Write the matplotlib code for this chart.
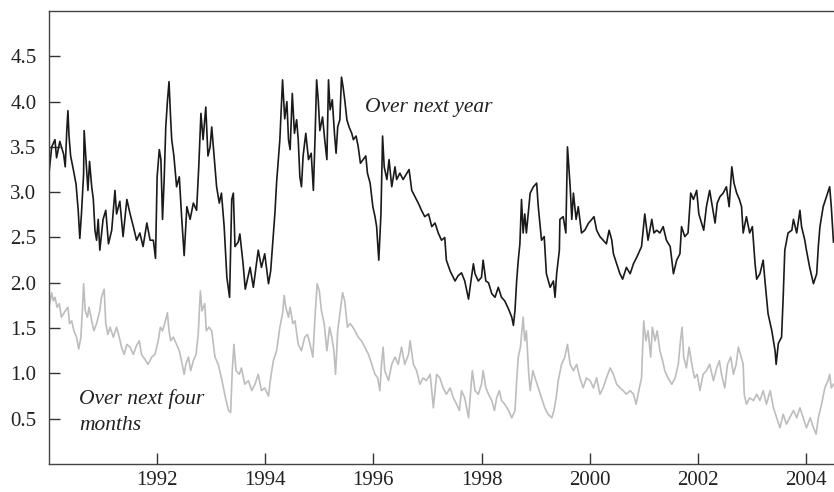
import matplotlib
matplotlib.use("Agg")
import matplotlib.pyplot as plt

plt.rcParams['font.family'] = ['Liberation Serif', 'DejaVu Serif']

# Over next year (black)
year_1y = [
    1990.00, 1990.05, 1990.11, 1990.14, 1990.20, 1990.27, 1990.30, 1990.33, 1990.35, 1990.37,
    1990.40, 1990.45, 1990.50, 1990.54, 1990.57, 1990.60, 1990.64, 1990.65, 1990.68, 1990.72,
    1990.75, 1990.79, 1990.82, 1990.85, 1990.88, 1990.91, 1990.94, 1991.00, 1991.05, 1991.10,
    1991.16, 1991.22, 1991.25, 1991.31, 1991.37, 1991.44, 1991.50, 1991.56, 1991.62, 1991.68,
    1991.74, 1991.81, 1991.87, 1991.93, 1991.97, 1992.00, 1992.04, 1992.07, 1992.10, 1992.13,
    1992.16, 1992.19, 1992.22, 1992.25, 1992.27, 1992.31, 1992.36, 1992.41, 1992.45, 1992.50,
    1992.55, 1992.61, 1992.67, 1992.73, 1992.77, 1992.81, 1992.85, 1992.90, 1992.94, 1992.98,
    1993.01, 1993.05, 1993.10, 1993.15, 1993.19, 1993.24, 1993.29, 1993.34, 1993.38, 1993.41,
    1993.44, 1993.50, 1993.53, 1993.59, 1993.63, 1993.72, 1993.78, 1993.87, 1993.93, 1993.99,
    1994.06, 1994.10, 1994.14, 1994.18, 1994.21, 1994.27, 1994.32, 1994.36, 1994.40, 1994.43,
    1994.46, 1994.50, 1994.54, 1994.58, 1994.61, 1994.64, 1994.67, 1994.70, 1994.75, 1994.80,
    1994.85, 1994.89, 1994.92, 1994.95, 1994.98, 1995.01, 1995.06, 1995.10, 1995.14, 1995.17,
    1995.20, 1995.24, 1995.28, 1995.31, 1995.34, 1995.38, 1995.41, 1995.44, 1995.47, 1995.51,
    1995.55, 1995.60, 1995.63, 1995.68, 1995.72, 1995.76, 1995.81, 1995.86, 1995.89, 1995.94,
    1995.99, 1996.03, 1996.06, 1996.10, 1996.14, 1996.17, 1996.20, 1996.25, 1996.29, 1996.34,
    1996.40, 1996.43, 1996.49, 1996.55, 1996.62, 1996.66, 1996.71, 1996.77, 1996.83, 1996.89,
    1996.95, 1997.02, 1997.08, 1997.14, 1997.20, 1997.26, 1997.32, 1997.35, 1997.42, 1997.51,
    1997.57, 1997.63, 1997.69, 1997.76, 1997.80, 1997.85, 1997.88, 1997.94, 1998.00, 1998.03,
    1998.08, 1998.13, 1998.19, 1998.25, 1998.31, 1998.37, 1998.43, 1998.50, 1998.56, 1998.59,
    1998.62, 1998.65, 1998.68, 1998.71, 1998.74, 1998.77, 1998.80, 1998.83, 1998.90, 1998.96,
    1999.02, 1999.05, 1999.11, 1999.16, 1999.20, 1999.27, 1999.33, 1999.36, 1999.39, 1999.44,
    1999.45, 1999.51, 1999.56, 1999.59, 1999.64, 1999.67, 1999.70, 1999.75, 1999.79, 1999.85,
    1999.91, 1999.98, 2000.04, 2000.08, 2000.13, 2000.19, 2000.25, 2000.31, 2000.36, 2000.41,
    2000.44, 2000.50, 2000.56, 2000.61, 2000.68, 2000.75, 2000.81, 2000.87, 2000.96, 2001.02,
    2001.08, 2001.15, 2001.19, 2001.24, 2001.30, 2001.36, 2001.42, 2001.49, 2001.55, 2001.61,
    2001.67, 2001.70, 2001.76, 2001.82, 2001.87, 2001.92, 2001.98, 2002.02, 2002.07, 2002.11,
    2002.16, 2002.22, 2002.27, 2002.32, 2002.36, 2002.41, 2002.47, 2002.53, 2002.58, 2002.63,
    2002.67, 2002.72, 2002.77, 2002.81, 2002.84, 2002.90, 2002.96, 2003.01, 2003.06, 2003.09,
    2003.15, 2003.21, 2003.24, 2003.30, 2003.37, 2003.43, 2003.45, 2003.49, 2003.55, 2003.58,
    2003.61, 2003.67, 2003.74, 2003.77, 2003.83, 2003.89, 2003.92, 2003.98, 2004.01, 2004.07,
    2004.14, 2004.20, 2004.23, 2004.26, 2004.32, 2004.38, 2004.44, 2004.47, 2004.51,
]
val_1y = [
    3.21, 3.50, 3.58, 3.38, 3.56, 3.42, 3.28, 3.69, 3.90, 3.62,
    3.40, 3.25, 3.09, 2.80, 2.49, 2.76, 3.20, 3.68, 3.40, 3.02,
    3.34, 3.06, 2.92, 2.58, 2.47, 2.70, 2.36, 2.70, 2.80, 2.43,
    2.58, 3.02, 2.76, 2.90, 2.51, 2.92, 2.76, 2.62, 2.47, 2.55,
    2.40, 2.66, 2.47, 2.47, 2.27, 3.17, 3.47, 3.36, 2.70, 3.14,
    3.72, 4.00, 4.22, 3.81, 3.58, 3.40, 3.06, 3.17, 2.76, 2.30,
    2.84, 2.70, 2.88, 2.80, 3.28, 3.87, 3.58, 3.94, 3.40, 3.50,
    3.72, 3.43, 3.06, 2.88, 2.99, 2.62, 2.06, 1.84, 2.92, 2.99,
    2.40, 2.45, 2.54, 2.21, 1.93, 2.17, 1.95, 2.36, 2.17, 2.32,
    1.99, 2.13, 2.45, 2.78, 3.11, 3.58, 4.24, 3.81, 4.00, 3.58,
    3.47, 4.09, 3.65, 3.80, 3.58, 3.17, 3.06, 3.40, 3.65, 3.36,
    3.43, 3.02, 3.58, 4.24, 4.02, 3.68, 3.83, 3.58, 3.36, 4.24,
    3.91, 4.02, 3.65, 3.43, 3.72, 3.80, 4.27, 4.16, 4.02, 3.80,
    3.72, 3.65, 3.58, 3.62, 3.50, 3.32, 3.36, 3.40, 3.21, 3.10,
    2.84, 2.73, 2.62, 2.25, 2.76, 3.62, 3.28, 3.14, 3.36, 3.06,
    3.28, 3.14, 3.21, 3.14, 3.21, 3.25, 3.02, 2.95, 2.88, 2.80,
    2.73, 2.76, 2.62, 2.66, 2.55, 2.47, 2.50, 2.25, 2.13, 2.02,
    2.08, 2.11, 2.02, 1.82, 2.00, 2.21, 2.10, 2.02, 2.06, 2.25,
    2.02, 2.00, 1.88, 1.84, 1.95, 1.84, 1.80, 1.71, 1.62, 1.53,
    1.70, 2.02, 2.25, 2.43, 2.92, 2.55, 2.76, 2.55, 2.99, 3.06,
    3.10, 2.84, 2.47, 2.51, 2.10, 1.95, 2.02, 1.84, 2.10, 2.36,
    2.70, 2.73, 2.55, 3.50, 3.06, 2.70, 2.99, 2.70, 2.84, 2.55,
    2.58, 2.66, 2.70, 2.73, 2.58, 2.51, 2.47, 2.43, 2.58, 2.47,
    2.32, 2.21, 2.10, 2.04, 2.17, 2.10, 2.21, 2.28, 2.40, 2.76,
    2.47, 2.70, 2.55, 2.58, 2.55, 2.62, 2.47, 2.40, 2.10, 2.25,
    2.32, 2.62, 2.51, 2.55, 2.99, 2.92, 3.02, 2.76, 2.66, 2.58,
    2.84, 3.02, 2.84, 2.66, 2.88, 2.95, 2.99, 3.06, 2.84, 3.28,
    3.10, 2.99, 2.92, 2.84, 2.55, 2.73, 2.55, 2.62, 2.21, 2.04,
    2.10, 2.25, 2.04, 1.66, 1.47, 1.25, 1.10, 1.33, 1.40, 1.84,
    2.36, 2.55, 2.58, 2.70, 2.55, 2.80, 2.62, 2.47, 2.36, 2.17,
    1.99, 2.10, 2.40, 2.62, 2.84, 2.95, 3.06, 2.84, 2.45,
]

# Over next four months (grey)
year_4m = [
    1990.00, 1990.05, 1990.08, 1990.11, 1990.15, 1990.19, 1990.23, 1990.30, 1990.35, 1990.38,
    1990.42, 1990.46, 1990.51, 1990.55, 1990.59, 1990.62, 1990.64, 1990.67, 1990.71, 1990.74,
    1990.79, 1990.83, 1990.88, 1990.94, 1990.97, 1991.02, 1991.05, 1991.09, 1991.13, 1991.19,
    1991.25, 1991.30, 1991.34, 1991.39, 1991.44, 1991.50, 1991.56, 1991.62, 1991.67, 1991.71,
    1991.77, 1991.83, 1991.90, 1991.96, 1992.02, 1992.06, 1992.10, 1992.14, 1992.19, 1992.22,
    1992.25, 1992.30, 1992.36, 1992.41, 1992.45, 1992.50, 1992.53, 1992.58, 1992.62, 1992.67,
    1992.72, 1992.76, 1992.80, 1992.83, 1992.88, 1992.91, 1992.96, 1993.01, 1993.07, 1993.13,
    1993.19, 1993.25, 1993.32, 1993.36, 1993.39, 1993.42, 1993.46, 1993.52, 1993.56, 1993.62,
    1993.69, 1993.75, 1993.81, 1993.87, 1993.93, 1993.99, 1994.06, 1994.10, 1994.15, 1994.21,
    1994.27, 1994.32, 1994.35, 1994.38, 1994.43, 1994.46, 1994.51, 1994.55, 1994.61, 1994.67,
    1994.73, 1994.78, 1994.83, 1994.88, 1994.92, 1994.96, 1995.00, 1995.04, 1995.09, 1995.14,
    1995.19, 1995.23, 1995.27, 1995.30, 1995.34, 1995.38, 1995.43, 1995.47, 1995.52, 1995.57,
    1995.62, 1995.66, 1995.72, 1995.78, 1995.84, 1995.91, 1995.97, 1996.03, 1996.08, 1996.12,
    1996.15, 1996.18, 1996.21, 1996.28, 1996.34, 1996.40, 1996.46, 1996.52, 1996.58, 1996.65,
    1996.68, 1996.74, 1996.80, 1996.86, 1996.92, 1996.98, 1997.05, 1997.11, 1997.17, 1997.23,
    1997.29, 1997.35, 1997.42, 1997.48, 1997.54, 1997.59, 1997.63, 1997.69, 1997.76, 1997.80,
    1997.83, 1997.88, 1997.94, 1998.00, 1998.03, 1998.08, 1998.13, 1998.19, 1998.24, 1998.28,
    1998.33, 1998.37, 1998.43, 1998.50, 1998.56, 1998.62, 1998.65, 1998.68, 1998.72, 1998.77,
    1998.80, 1998.83, 1998.87, 1998.90, 1998.95, 1998.99, 1999.05, 1999.11, 1999.17, 1999.23,
    1999.30, 1999.34, 1999.38, 1999.42, 1999.48, 1999.54, 1999.59, 1999.64, 1999.70, 1999.76,
    1999.82, 1999.88, 1999.94, 2000.01, 2000.07, 2000.13, 2000.19, 2000.25, 2000.31, 2000.38,
    2000.44, 2000.50, 2000.56, 2000.62, 2000.68, 2000.75, 2000.81, 2000.86, 2000.92, 2000.96,
    2001.00, 2001.04, 2001.08, 2001.13, 2001.16, 2001.21, 2001.25, 2001.30, 2001.35, 2001.39,
    2001.45, 2001.52, 2001.58, 2001.64, 2001.68, 2001.71, 2001.74, 2001.79, 2001.84, 2001.89,
    2001.94, 2001.99, 2002.04, 2002.10, 2002.16, 2002.22, 2002.29, 2002.35, 2002.40, 2002.44,
    2002.50, 2002.55, 2002.61, 2002.66, 2002.71, 2002.75, 2002.79, 2002.84, 2002.86, 2002.90,
    2002.96, 2003.03, 2003.09, 2003.15, 2003.21, 2003.27, 2003.34, 2003.40, 2003.46, 2003.52,
    2003.58, 2003.64, 2003.70, 2003.77, 2003.83, 2003.89, 2003.95, 2004.01, 2004.08, 2004.14,
    2004.19, 2004.23, 2004.29, 2004.35, 2004.41, 2004.44, 2004.47, 2004.51,
]
val_4m = [
    1.73, 1.89, 1.80, 1.84, 1.73, 1.77, 1.62, 1.69, 1.73, 1.55,
    1.58, 1.47, 1.40, 1.27, 1.40, 1.73, 1.99, 1.69, 1.62, 1.73,
    1.58, 1.47, 1.55, 1.69, 1.84, 1.93, 1.55, 1.43, 1.51, 1.40,
    1.51, 1.40, 1.29, 1.21, 1.32, 1.29, 1.21, 1.31, 1.36, 1.21,
    1.16, 1.10, 1.18, 1.21, 1.36, 1.51, 1.47, 1.55, 1.67, 1.47,
    1.36, 1.40, 1.32, 1.25, 1.14, 0.99, 1.10, 1.18, 1.03, 1.14,
    1.21, 1.43, 1.91, 1.69, 1.77, 1.47, 1.51, 1.47, 1.18, 1.10,
    0.95, 0.77, 0.59, 0.57, 1.03, 1.32, 1.03, 0.99, 1.06, 0.88,
    0.92, 0.81, 0.88, 0.99, 0.81, 0.84, 0.75, 0.95, 1.14, 1.25,
    1.51, 1.66, 1.86, 1.73, 1.62, 1.73, 1.55, 1.58, 1.32, 1.25,
    1.40, 1.43, 1.32, 1.18, 1.62, 1.99, 1.91, 1.69, 1.55, 1.25,
    1.51, 1.40, 1.25, 0.99, 1.47, 1.66, 1.89, 1.80, 1.51, 1.55,
    1.51, 1.47, 1.40, 1.36, 1.29, 1.21, 1.10, 0.99, 0.95, 0.81,
    1.10, 1.29, 1.03, 0.92, 1.10, 1.18, 1.10, 1.29, 1.10, 1.21,
    1.36, 1.10, 1.03, 0.88, 0.95, 0.92, 0.99, 0.62, 0.99, 0.95,
    0.84, 0.77, 0.84, 0.73, 0.66, 0.59, 0.81, 0.73, 0.51, 0.81,
    1.03, 0.81, 0.77, 0.88, 1.03, 0.84, 0.77, 0.70, 0.59, 0.73,
    0.81, 0.70, 0.66, 0.59, 0.51, 0.59, 0.92, 1.18, 1.29, 1.62,
    1.36, 1.47, 1.03, 0.81, 1.03, 0.95, 0.84, 0.73, 0.62, 0.55,
    0.51, 0.59, 0.73, 0.92, 1.10, 1.18, 1.32, 1.10, 1.03, 1.10,
    0.95, 0.84, 0.95, 0.92, 0.84, 0.95, 0.77, 0.84, 0.95, 1.06,
    0.99, 0.88, 0.84, 0.81, 0.77, 0.81, 0.77, 0.66, 0.84, 0.95,
    1.58, 1.36, 1.47, 1.18, 1.51, 1.36, 1.47, 1.25, 1.14, 1.03,
    0.95, 0.88, 0.95, 1.10, 1.36, 1.51, 1.18, 1.06, 1.29, 1.10,
    0.95, 0.99, 0.81, 0.99, 1.03, 1.10, 0.92, 1.06, 1.14, 0.99,
    0.84, 1.10, 1.18, 0.99, 1.10, 1.29, 1.21, 1.10, 0.77, 0.66,
    0.73, 0.70, 0.77, 0.70, 0.81, 0.66, 0.81, 0.62, 0.51, 0.40,
    0.55, 0.44, 0.51, 0.59, 0.51, 0.62, 0.51, 0.40, 0.51, 0.40,
    0.33, 0.51, 0.66, 0.84, 0.92, 0.99, 0.84, 0.88,
]

x_ticks = [1992, 1994, 1996, 1998, 2000, 2002, 2004]
y_ticks = [0.5, 1.0, 1.5, 2.0, 2.5, 3.0, 3.5, 4.0, 4.5]

fig = plt.figure(figsize=(8.34, 4.92), dpi=100)
ax = fig.add_axes([49 / 834, 28 / 492, 785 / 834, 453 / 492])

ax.plot(year_4m, val_4m, color='#bdbdbd', lw=1.2)
ax.plot(year_1y, val_1y, color='#1a1a1a', lw=1.2)

ax.set_xlim(1990.0, 2004.52)
ax.set_ylim(0, 5.0)
ax.set_xticks(x_ticks)
ax.set_xticklabels([str(t) for t in x_ticks])
ax.set_yticks(y_ticks)
ax.set_yticklabels([f"{t:.1f}" for t in y_ticks])

ax.tick_params(direction='in', length=8, width=1, color='#333333',
               labelsize=15, labelcolor='#222222')
ax.tick_params(axis='x', pad=5)
ax.tick_params(axis='y', pad=9)
for s in ['left', 'bottom', 'top']:
    ax.spines[s].set_color('#444444')
    ax.spines[s].set_linewidth(1.0)
ax.spines['right'].set_visible(False)

ax.text(1995.84, 3.89, 'Over next year', fontsize=15.5, style='italic',
        color='#222222', va='baseline', ha='left')
ax.text(1990.55, 0.66, 'Over next four', fontsize=15.5, style='italic',
        color='#222222', va='baseline', ha='left')
ax.text(1990.55, 0.37, 'months', fontsize=15.5, style='italic',
        color='#222222', va='baseline', ha='left')

fig.savefig('out.png', dpi=100)
